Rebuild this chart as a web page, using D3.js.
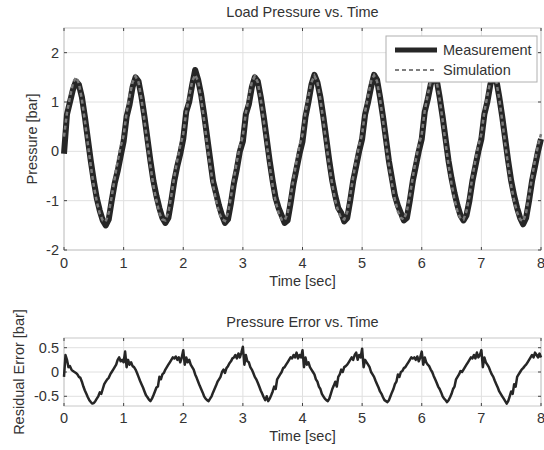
<!DOCTYPE html>
<html>
<head>
<meta charset="utf-8">
<script src="https://cdn.jsdelivr.net/npm/d3@7/dist/d3.min.js"></script>
<style>
  html, body { margin: 0; padding: 0; background: #fff; }
  svg text { font-family: "Liberation Sans", Arial, sans-serif; fill: #333; }
</style>
</head>
<body>
<svg id="chart" width="544" height="450"></svg>
<script>
// sample spacing (s) for the pressure traces and the error trace
const pressureStep = 0.05;
const errorStep = 0.025;

const xTicks = [0, 1, 2, 3, 4, 5, 6, 7, 8];
const pressureTicks = [-2, -1, 0, 1, 2];
const errorTicks = [-0.5, 0, 0.5];

// measured load pressure [bar], every 0.05 s from 0 to 8 s
const measurement = [
  -0.05, 0.75, 1.0, 1.25, 1.42, 1.35, 1.1, 0.7, 0.25, -0.2, -0.6, -0.95, -1.2, -1.4, -1.5, -1.38, -1.0, -0.65, -0.4, -0.1,
  0.2, 0.7, 0.95, 1.3, 1.5, 1.42, 1.1, 0.7, 0.25, -0.2, -0.6, -0.9, -1.15, -1.35, -1.45, -1.35, -1.0, -0.6, -0.3, -0.05,
  0.25, 0.8, 1.0, 1.35, 1.65, 1.45, 1.15, 0.75, 0.3, -0.15, -0.6, -0.85, -1.1, -1.3, -1.45, -1.38, -1.05, -0.65, -0.35, 0.0,
  0.2, 0.75, 0.95, 1.3, 1.5, 1.42, 1.1, 0.7, 0.25, -0.2, -0.6, -0.95, -1.15, -1.3, -1.45, -1.4, -1.05, -0.65, -0.35, -0.05,
  0.2, 0.7, 1.0, 1.35, 1.55, 1.4, 1.1, 0.7, 0.25, -0.2, -0.6, -0.9, -1.15, -1.25, -1.42, -1.35, -1.0, -0.6, -0.3, 0.0,
  0.25, 0.75, 1.0, 1.3, 1.55, 1.45, 1.1, 0.7, 0.25, -0.2, -0.55, -0.9, -1.1, -1.25, -1.4, -1.35, -1.0, -0.6, -0.3, 0.0,
  0.25, 0.8, 1.05, 1.35, 1.55, 1.45, 1.1, 0.7, 0.25, -0.2, -0.55, -0.85, -1.1, -1.3, -1.4, -1.3, -1.0, -0.6, -0.3, 0.0,
  0.25, 0.75, 1.0, 1.35, 1.58, 1.45, 1.1, 0.7, 0.25, -0.2, -0.6, -0.9, -1.15, -1.35, -1.48, -1.35, -1.0, -0.6, -0.3, 0.0,
  0.25
];

// simulated load pressure [bar], same sampling
const simulation = [
  0.3, 0.78, 1.1, 1.38, 1.5, 1.38, 1.05, 0.62, 0.15, -0.3, -0.7, -1.02, -1.26, -1.4, -1.42, -1.25, -0.92, -0.55, -0.2, 0.1,
  0.32, 0.78, 1.12, 1.4, 1.52, 1.4, 1.05, 0.62, 0.15, -0.3, -0.7, -1.0, -1.25, -1.38, -1.4, -1.24, -0.9, -0.52, -0.18, 0.12,
  0.35, 0.8, 1.12, 1.42, 1.55, 1.42, 1.06, 0.63, 0.16, -0.28, -0.68, -1.0, -1.24, -1.38, -1.41, -1.25, -0.92, -0.55, -0.2, 0.1,
  0.32, 0.78, 1.1, 1.4, 1.52, 1.4, 1.05, 0.62, 0.15, -0.3, -0.7, -1.02, -1.25, -1.38, -1.4, -1.26, -0.92, -0.55, -0.2, 0.12,
  0.34, 0.8, 1.12, 1.4, 1.53, 1.4, 1.05, 0.62, 0.15, -0.3, -0.68, -1.0, -1.22, -1.36, -1.38, -1.24, -0.9, -0.52, -0.18, 0.12,
  0.35, 0.8, 1.12, 1.42, 1.54, 1.42, 1.06, 0.63, 0.16, -0.28, -0.66, -0.98, -1.22, -1.35, -1.38, -1.22, -0.9, -0.52, -0.18, 0.12,
  0.35, 0.82, 1.14, 1.42, 1.54, 1.42, 1.06, 0.63, 0.16, -0.28, -0.66, -0.98, -1.22, -1.36, -1.38, -1.22, -0.9, -0.52, -0.18, 0.12,
  0.35, 0.8, 1.12, 1.42, 1.55, 1.42, 1.06, 0.62, 0.15, -0.3, -0.7, -1.0, -1.24, -1.38, -1.42, -1.25, -0.9, -0.52, -0.18, 0.12,
  0.35
];

// residual error [bar], every 0.025 s from 0 to 8 s
const residual = [
  -0.1, 0.35, 0.25, 0.1, 0.12, 0.05, 0.02, 0.0, -0.02, -0.05, -0.1, -0.12, -0.2, -0.3, -0.38, -0.45, -0.52, -0.58, -0.62, -0.65,
  -0.64, -0.6, -0.55, -0.5, -0.42, -0.45, -0.35, -0.25, -0.2, -0.15, -0.12, -0.05, 0.0, 0.05, 0.1, 0.15, 0.25, 0.3, 0.22, 0.25,
  0.2, 0.42, 0.1, 0.25, 0.15, 0.2, 0.12, 0.1, 0.05, -0.02, -0.1, -0.18, -0.25, -0.32, -0.4, -0.48, -0.52, -0.57, -0.6, -0.55,
  -0.48, -0.4, -0.32, -0.3, -0.1, -0.15, -0.05, -0.02, 0.05, 0.1, 0.15, 0.2, 0.25, 0.3, 0.28, 0.32, 0.25, 0.3, 0.2, 0.3,
  0.45, 0.15, 0.3, 0.2, 0.25, 0.15, 0.1, 0.05, -0.05, -0.12, -0.2, -0.28, -0.35, -0.42, -0.5, -0.55, -0.58, -0.6, -0.55, -0.5,
  -0.42, -0.35, -0.28, -0.2, -0.15, -0.1, 0.0, 0.05, -0.02, 0.08, 0.12, 0.18, 0.22, 0.28, 0.3, 0.35, 0.28, 0.38, 0.3, 0.4,
  0.52, 0.15, 0.35, 0.22, 0.2, 0.1, 0.05, -0.02, -0.1, -0.15, -0.22, -0.3, -0.38, -0.45, -0.52, -0.58, -0.5, -0.6, -0.55, -0.48,
  -0.4, -0.3, -0.35, -0.15, -0.1, -0.05, 0.0, 0.08, 0.1, 0.15, 0.2, 0.25, 0.3, 0.28, 0.35, 0.3, 0.4, 0.28, 0.35, 0.3,
  0.45, 0.1, 0.3, 0.15, 0.2, 0.1, 0.05, 0.0, -0.05, -0.15, -0.2, -0.3, -0.35, -0.45, -0.5, -0.55, -0.58, -0.6, -0.55, -0.45,
  -0.35, -0.28, -0.2, -0.3, -0.1, -0.05, 0.05, 0.0, 0.1, 0.12, 0.15, 0.2, 0.25, 0.3, 0.25, 0.35, 0.4, 0.25, 0.35, 0.3,
  0.48, 0.1, 0.25, 0.2, 0.15, 0.1, 0.0, -0.05, -0.1, -0.18, -0.25, -0.32, -0.4, -0.45, -0.52, -0.58, -0.6, -0.62, -0.58, -0.5,
  -0.42, -0.35, -0.25, -0.2, -0.05, -0.1, 0.0, 0.02, 0.08, 0.1, 0.15, 0.2, 0.25, 0.3, 0.28, 0.3, 0.25, 0.32, 0.22, 0.3,
  0.42, 0.15, 0.3, 0.2, 0.15, 0.12, 0.05, 0.0, -0.08, -0.15, -0.22, -0.3, -0.35, -0.42, -0.5, -0.55, -0.58, -0.62, -0.58, -0.52,
  -0.45, -0.35, -0.3, -0.15, -0.1, -0.05, 0.02, 0.0, 0.05, 0.1, 0.15, 0.2, 0.25, 0.3, 0.28, 0.35, 0.28, 0.4, 0.3, 0.35,
  0.45, 0.1, 0.3, 0.2, 0.15, 0.1, 0.02, -0.05, -0.1, -0.18, -0.25, -0.32, -0.4, -0.45, -0.5, -0.55, -0.6, -0.65, -0.6, -0.5,
  -0.4, -0.45, -0.25, -0.3, -0.1, -0.05, 0.0, 0.05, 0.08, 0.12, 0.15, 0.2, 0.25, 0.3, 0.35, 0.3, 0.4, 0.35, 0.3, 0.38,
  0.3
];

const svg = d3.select('#chart');
svg.append('rect').attr('width', 544).attr('height', 450).attr('fill', '#fff');

const x = d3.scaleLinear().domain([0, 8]).range([64, 541]);

// draws one MATLAB-style axes box (grid, inward ticks, labels)
function drawAxes(y, yTicks, fmt, opts) {
  const g = svg.append('g');
  const [y0, y1] = y.range();   // bottom, top
  const [x0, x1] = x.range();

  g.selectAll('line.gx').data(xTicks).join('line')
    .attr('x1', d => x(d)).attr('x2', d => x(d))
    .attr('y1', y1).attr('y2', y0)
    .attr('stroke', '#e0e0e0').attr('stroke-width', 1);
  g.selectAll('line.gy').data(yTicks).join('line')
    .attr('x1', x0).attr('x2', x1)
    .attr('y1', d => y(d)).attr('y2', d => y(d))
    .attr('stroke', '#e0e0e0').attr('stroke-width', 1);

  g.append('rect')
    .attr('x', x0).attr('y', y1)
    .attr('width', x1 - x0).attr('height', y0 - y1)
    .attr('fill', 'none').attr('stroke', '#c8c8c8').attr('stroke-width', 1);

  // small inward tick marks on all four sides
  const tk = 3;
  xTicks.forEach(d => {
    g.append('line').attr('x1', x(d)).attr('x2', x(d)).attr('y1', y0).attr('y2', y0 - tk)
      .attr('stroke', '#444').attr('stroke-width', 1);
    g.append('line').attr('x1', x(d)).attr('x2', x(d)).attr('y1', y1).attr('y2', y1 + tk)
      .attr('stroke', '#444').attr('stroke-width', 1);
  });
  yTicks.forEach(d => {
    g.append('line').attr('x1', x0).attr('x2', x0 + tk).attr('y1', y(d)).attr('y2', y(d))
      .attr('stroke', '#444').attr('stroke-width', 1);
    g.append('line').attr('x1', x1).attr('x2', x1 - tk).attr('y1', y(d)).attr('y2', y(d))
      .attr('stroke', '#444').attr('stroke-width', 1);
  });

  g.selectAll('text.xt').data(xTicks).join('text')
    .attr('x', d => x(d)).attr('y', y0 + opts.xTickDy)
    .attr('text-anchor', 'middle').attr('font-size', 14.5)
    .text(d => d);
  g.selectAll('text.yt').data(yTicks).join('text')
    .attr('x', x0 - 5).attr('y', d => y(d) + 5)
    .attr('text-anchor', 'end').attr('font-size', 14.5)
    .text(fmt);

  g.append('text')
    .attr('x', (x0 + x1) / 2).attr('y', y1 - opts.titleDy)
    .attr('text-anchor', 'middle').attr('font-size', 14.5)
    .text(opts.title);
  g.append('text')
    .attr('x', (x0 + x1) / 2).attr('y', y0 + opts.xLabelDy)
    .attr('text-anchor', 'middle').attr('font-size', 14.5)
    .text('Time [sec]');
  g.append('text')
    .attr('transform', `translate(${opts.yLabelX},${(y0 + y1) / 2}) rotate(-90)`)
    .attr('text-anchor', 'middle').attr('font-size', 14.5)
    .text(opts.yLabel);
  return g;
}

// top panel: load pressure
const yP = d3.scaleLinear().domain([-2, 2.5]).range([250, 28]);
drawAxes(yP, pressureTicks, d => d, {
  title: 'Load Pressure vs. Time', titleDy: 11,
  yLabel: 'Pressure [bar]', yLabelX: 37,
  xTickDy: 18, xLabelDy: 36
});

const pLine = d3.line()
  .x((d, i) => x(i * pressureStep))
  .y(d => yP(d));

svg.append('path').datum(measurement)
  .attr('d', pLine)
  .attr('fill', 'none').attr('stroke', '#262626')
  .attr('stroke-width', 6).attr('stroke-linejoin', 'round');
svg.append('path').datum(simulation)
  .attr('d', pLine)
  .attr('fill', 'none').attr('stroke', '#7a7a7a')
  .attr('stroke-width', 2.5).attr('stroke-dasharray', '4,3');

// legend
const lg = svg.append('g');
lg.append('rect').attr('x', 386).attr('y', 36).attr('width', 151).attr('height', 46)
  .attr('fill', '#fff').attr('stroke', '#b0b0b0').attr('stroke-width', 1);
lg.append('line').attr('x1', 395).attr('x2', 437).attr('y1', 50).attr('y2', 50)
  .attr('stroke', '#262626').attr('stroke-width', 5);
lg.append('text').attr('x', 443).attr('y', 55).attr('font-size', 14.5).text('Measurement');
lg.append('line').attr('x1', 395).attr('x2', 437).attr('y1', 70).attr('y2', 70)
  .attr('stroke', '#555').attr('stroke-width', 1.5).attr('stroke-dasharray', '4,3');
lg.append('text').attr('x', 443).attr('y', 75).attr('font-size', 14.5).text('Simulation');

// bottom panel: residual error
const yE = d3.scaleLinear().domain([-0.7, 0.7]).range([406, 338]);
drawAxes(yE, errorTicks, d => d, {
  title: 'Pressure Error vs. Time', titleDy: 11,
  yLabel: 'Residual Error [bar]', yLabelX: 24,
  xTickDy: 17, xLabelDy: 35
});

svg.append('path').datum(residual)
  .attr('d', d3.line().x((d, i) => x(i * errorStep)).y(d => yE(d)))
  .attr('fill', 'none').attr('stroke', '#262626')
  .attr('stroke-width', 2.5).attr('stroke-linejoin', 'round');
</script>
</body>
</html>
